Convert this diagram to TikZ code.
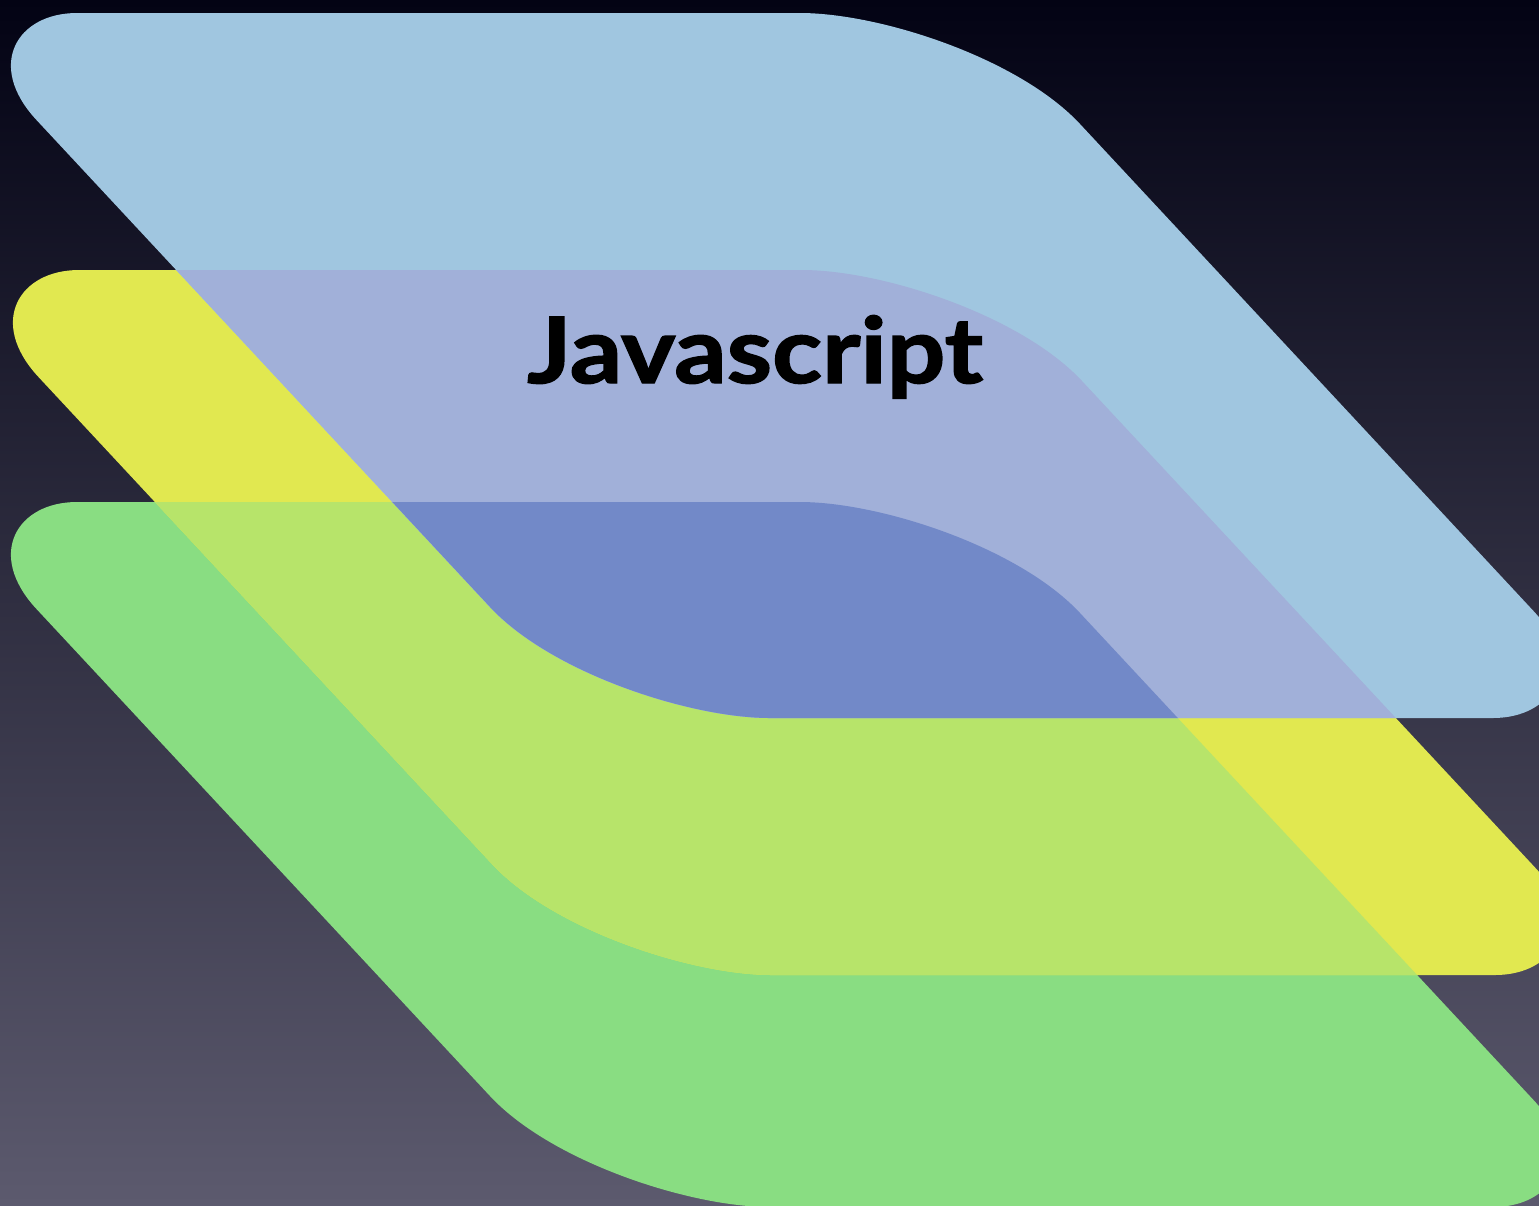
\documentclass[tikz,border=0pt]{standalone}
\usepackage{fontspec}
\newfontfamily\titlefont{Lato}[BoldFeatures={FakeBold=1.5}]
\definecolor{bgtop}{HTML}{030314}
\definecolor{bgbot}{HTML}{5C5A6E}
\definecolor{lblue}{HTML}{A0C6E0}
\definecolor{lav}{HTML}{A1B0D9}
\definecolor{dblue}{HTML}{7289C8}
\definecolor{lyellow}{HTML}{E1E850}
\definecolor{ygreen}{HTML}{B7E46A}
\definecolor{lgreen}{HTML}{89DD82}
\newcommand\layerpath{(77,13) -- (800,13) .. controls (880,13) and (1018.7,58.1) .. (1080,124)
  -- (1533.5,611) .. controls (1584.6,665.9) and (1553,718) .. (1493,718)
  -- (770,718) .. controls (690,718) and (551.3,672.9) .. (490,607)
  -- (36.5,120) .. controls (-14.6,65.1) and (17,13) .. (77,13) -- cycle}
\tikzset{layerB/.style={shift={(2,257)}},layerC/.style={shift={(0,489)}}}
\begin{document}
\begin{tikzpicture}[x=0.01cm,y=-0.01cm]
\useasboundingbox (0,0) rectangle (1539,1205);
\shade[top color=bgtop,bottom color=bgbot] (0,0) rectangle (1539,1205);
\begin{scope}
\clip (0,0) rectangle (1539,1205);
% green layer
\fill[lgreen,layerC] \layerpath;
% yellow layer
\fill[lyellow,layerB] \layerpath;
\begin{scope}
\clip[layerB] \layerpath;
\fill[ygreen,layerC] \layerpath;
\end{scope}
% blue layer
\fill[lblue] \layerpath;
\begin{scope}
\clip \layerpath;
\fill[lav,layerB] \layerpath;
\clip[layerB] \layerpath;
\fill[dblue,layerC] \layerpath;
\end{scope}
\end{scope}
\node[anchor=base,inner sep=0pt,font=\titlefont\bfseries\fontsize{26}{30}\selectfont] (title) at (755,383) {\scalebox{1.13}[1]{Javascript}};
\end{tikzpicture}
\end{document}
